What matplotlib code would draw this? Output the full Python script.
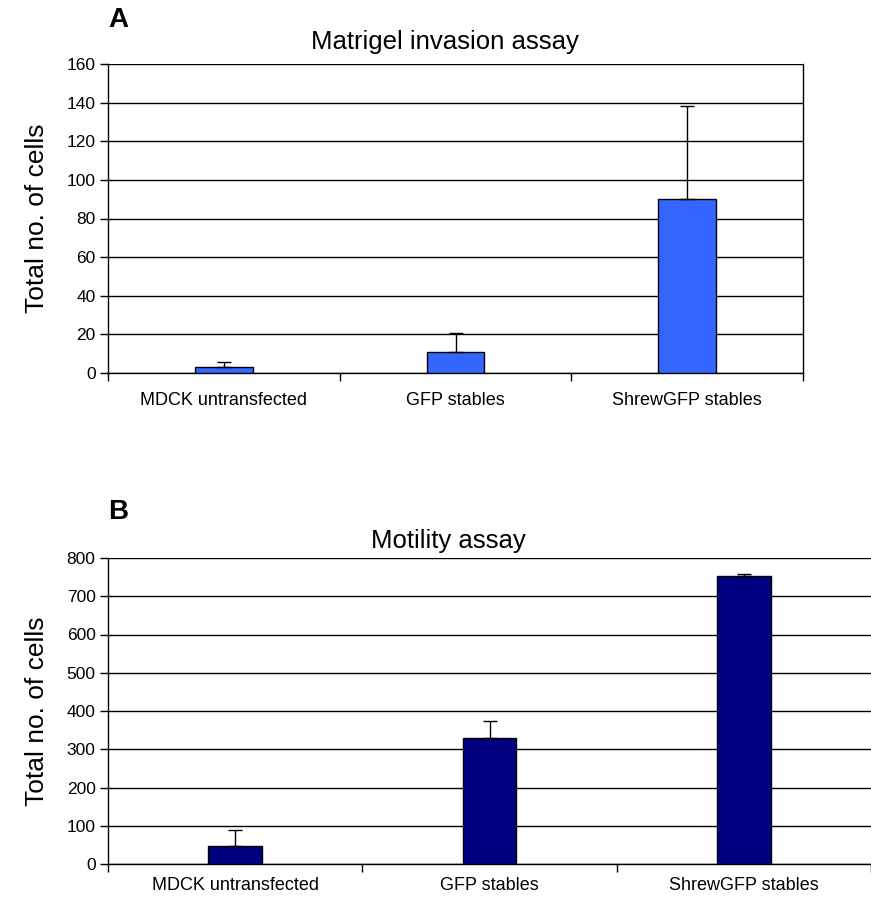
import matplotlib
matplotlib.use("Agg")
import matplotlib.pyplot as plt
import numpy as np

plt.rcParams['font.family'] = ['Liberation Sans', 'DejaVu Sans']

categories = ["MDCK untransfected", "GFP stables", "ShrewGFP stables"]
invasion = [3, 11, 90]
invasion_err = [2.8, 9.5, 48]
motility = [46, 330, 753]
motility_err = [44, 45, 6]

fig = plt.figure(figsize=(8.71, 9.02), dpi=100)
W, H = 871.0, 902.0

def panel(rect, vals, errs, color, ymax, step, width, title, title_xy, letter, letter_xy, right_spine, xpad):
    ax = fig.add_axes([rect[0] / W, 1 - rect[3] / H, (rect[2] - rect[0]) / W, (rect[3] - rect[1]) / H])
    x = np.arange(len(vals))
    ax.bar(x, vals, width=width, color=color, edgecolor='black', linewidth=1.0, zorder=3)
    ax.errorbar(x, vals, yerr=[np.zeros(len(errs)), errs], fmt='none', ecolor='black',
                elinewidth=1.0, capsize=5, capthick=1.0, zorder=4)
    ax.set_xlim(-0.5, len(vals) - 0.5)
    ax.set_ylim(0, ymax)
    ax.set_yticks(np.arange(0, ymax + 1, step))
    ax.yaxis.grid(True, color='black', linewidth=1.0, zorder=0)
    ax.set_axisbelow(True)
    ax.set_xticks(x)
    ax.set_xticklabels(categories, fontsize=13)
    ax.tick_params(axis='x', length=0, pad=xpad)
    ax.set_xticks(np.arange(-0.5, len(vals), 1.0), minor=True)
    ax.tick_params(axis='x', which='minor', length=6, width=1.0, direction='out')
    ax.tick_params(axis='y', length=6, width=1.0, labelsize=12.5, direction='out', pad=3)
    ax.spines['top'].set_visible(False)
    ax.spines['right'].set_visible(right_spine)
    for s in ['left', 'bottom', 'right']:
        ax.spines[s].set_linewidth(1.0)
    fig.text(title_xy[0] / W, 1 - title_xy[1] / H, title, fontsize=18.5, ha='center', va='center')
    fig.text(37 / W, 1 - (rect[1] + rect[3]) / 2 / H, "Total no. of cells", fontsize=19,
             rotation=90, ha='center', va='center')
    fig.text(letter_xy[0] / W, 1 - letter_xy[1] / H, letter, fontsize=20, fontweight='bold',
             ha='left', va='center')
    return ax

panel((108, 64, 803, 373), invasion, invasion_err, '#3366FF', 160, 20, 0.25,
      "Matrigel invasion assay", (445, 42), "A", (108, 20), True, 14)
panel((108, 558, 871, 864), motility, motility_err, '#000080', 800, 100, 0.21,
      "Motility assay", (448, 541), "B", (108, 512), False, 9)

fig.savefig("out.png", dpi=100)
